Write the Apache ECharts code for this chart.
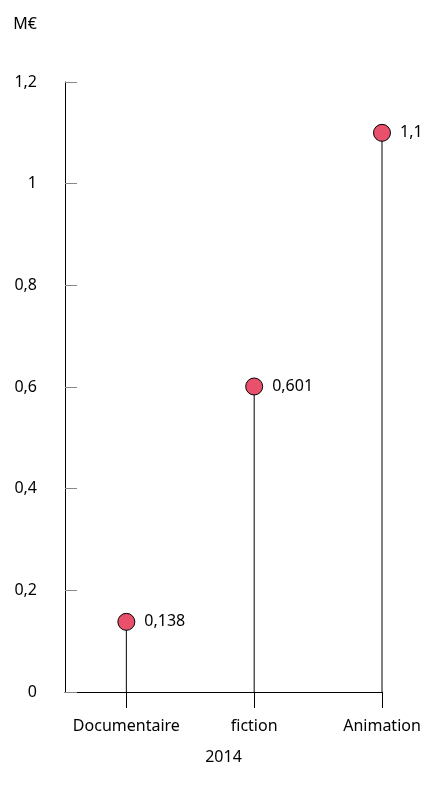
<!DOCTYPE html>
<html>
<head>
<meta charset="utf-8">
<script src="https://cdn.jsdelivr.net/npm/echarts@6/dist/echarts.min.js"></script>
<style>html,body{margin:0;padding:0;background:#fff}#c{width:429px;height:792px}</style>
</head>
<body>
<div id="c"></div>
<script>
var categories = ['Documentaire', 'fiction', 'Animation'];
var values = [0.138, 0.601, 1.1];
var valueLabels = ['0,138', '0,601', '1,1'];
var yearLabel = '2014';
var unitLabel = 'M€';

var idx = categories.map(function (c, i) { return i; });
var pts = values.map(function (v, i) { return [i, v]; });

var chart = echarts.init(document.getElementById('c'), null, {renderer: 'canvas'});
var font = 'Noto Sans';
var fs = 16;
chart.setOption({
  animation: false,
  backgroundColor: '#fff',
  grid: {left: 65, right: 47, top: 82, bottom: 100},
  xAxis: {
    type: 'value', min: -0.48, max: 2,
    name: yearLabel, nameLocation: 'middle', nameGap: 57,
    nameTextStyle: {fontFamily: font, fontSize: fs, color: '#000'},
    splitLine: {show: false},
    axisLine: {show: true, onZero: false, lineStyle: {color: '#000', width: 1}},
    axisTick: {show: true, customValues: idx, length: 16, inside: false, lineStyle: {color: '#000'}},
    axisLabel: {customValues: idx, margin: 26, fontFamily: font, fontSize: fs, color: '#000',
      formatter: function (v) { return categories[Math.round(v)] || ''; }}
  },
  yAxis: {
    type: 'value', min: 0, max: 1.2, interval: 0.2,
    name: unitLabel, nameLocation: 'end', nameGap: 50,
    nameTextStyle: {fontFamily: font, fontSize: fs, color: '#000', align: 'right', padding: [0, 28, 0, 0]},
    splitLine: {show: false},
    axisLine: {show: true, onZero: false, lineStyle: {color: '#000', width: 1}},
    axisTick: {show: true, inside: true, length: 12, lineStyle: {color: '#888'}},
    axisLabel: {margin: 28, fontFamily: font, fontSize: fs, color: '#000',
      formatter: function (v) { return String(Math.round(v * 10) / 10).replace('.', ','); }}
  },
  series: [
    {type: 'bar', data: pts, barWidth: 1, itemStyle: {color: '#000'}, silent: true},
    {type: 'scatter', data: pts, symbol: 'circle', symbolSize: 17, z: 5,
      itemStyle: {color: '#e8506b', borderColor: '#000', borderWidth: 1, opacity: 1},
      label: {show: true, position: 'right', distance: 9, fontFamily: font, fontSize: fs, color: '#000',
        formatter: function (p) { return valueLabels[p.dataIndex]; }}}
  ]
});
</script>
</body>
</html>
